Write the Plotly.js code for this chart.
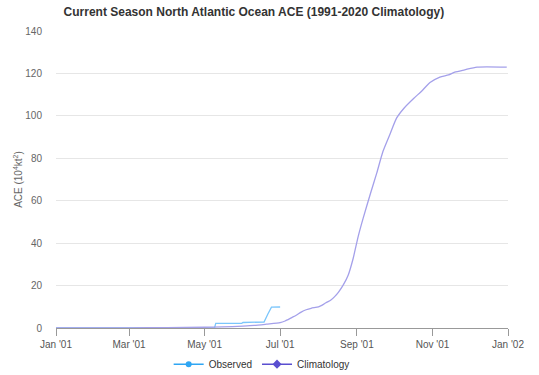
<!DOCTYPE html>
<html>
<head>
<meta charset="utf-8">
<script src="https://cdn.plot.ly/plotly-3.0.1.min.js"></script>
<style>
html,body{margin:0;padding:0;background:#fff;}
#chart{width:539px;height:375px;}
</style>
</head>
<body>
<div id="chart"></div>
<script>
// Observed season ACE (cumulative)
const obsDates = ['2001-01-01','2001-05-09','2001-05-10','2001-05-31','2001-06-01','2001-06-18','2001-06-21','2001-06-24','2001-07-01'];
const obsValues = [0, 0, 2.2, 2.2, 2.6, 2.8, 6.5, 9.8, 9.9];

// Climatology (1991-2020) cumulative ACE
const climDates = ['2001-01-01','2001-02-01','2001-03-01','2001-04-01','2001-05-01','2001-05-15','2001-06-01','2001-06-10','2001-06-20','2001-07-01','2001-07-05','2001-07-10','2001-07-14','2001-07-18','2001-07-22','2001-07-26','2001-08-01','2001-08-04','2001-08-07','2001-08-11','2001-08-14','2001-08-17','2001-08-21','2001-08-25','2001-08-29','2001-09-02','2001-09-06','2001-09-12','2001-09-17','2001-09-22','2001-09-28','2001-10-03','2001-10-09','2001-10-17','2001-10-23','2001-10-30','2001-11-07','2001-11-14','2001-11-19','2001-11-27','2001-12-07','2001-12-31'];
const climValues = [0, 0.05, 0.1, 0.2, 0.35, 0.5, 0.9, 1.2, 1.8, 2.5, 3.3, 4.8, 6.0, 7.5, 8.6, 9.3, 10.0, 10.8, 11.9, 13.2, 14.8, 16.8, 20.3, 25.0, 32.9, 43.1, 51.7, 63.5, 73.0, 83.2, 91.8, 98.9, 103.6, 108.3, 111.5, 115.7, 118.3, 119.3, 120.6, 121.7, 123.0, 123.0];

const xTicks = ['2001-01-01','2001-03-01','2001-05-01','2001-07-01','2001-09-01','2001-11-01','2002-01-01'];
const xTickText = ["Jan '01","Mar '01","May '01","Jul '01","Sep '01","Nov '01","Jan '02"];
const yTicks = [0,20,40,60,80,100,120,140];

const traces = [
  {x: obsDates, y: obsValues, type:'scatter', mode:'lines', name:'Observed', showlegend:false,
   line:{color:'#7cc6fb', width:1.3}, hoverinfo:'skip'},
  {x: climDates, y: climValues, type:'scatter', mode:'lines', name:'Climatology', showlegend:false,
   line:{color:'#a4a0ea', width:1.3, shape:'spline', smoothing:0.6}, hoverinfo:'skip'},
  {x:[null], y:[null], type:'scatter', mode:'lines+markers', name:'Observed',
   line:{color:'#2fa6f3', width:1.5}, marker:{symbol:'circle', size:6, color:'#2fa6f3'}},
  {x:[null], y:[null], type:'scatter', mode:'lines+markers', name:'Climatology',
   line:{color:'#5a4fd0', width:1.5}, marker:{symbol:'diamond', size:7, color:'#5a4fd0'}}
];

const layout = {
  width:539, height:375,
  margin:{l:56, r:31, t:31, b:47},
  paper_bgcolor:'#fff', plot_bgcolor:'#fff',
  font:{family:'"Liberation Sans", Arial, sans-serif', color:'#666', size:10},
  title:{text:'<b>Current Season North Atlantic Ocean ACE (1991-2020 Climatology)</b>',
         font:{size:12, color:'#333', family:'"Liberation Sans", Arial, sans-serif'},
         x:0.471, xanchor:'center', y:0.968, yanchor:'middle'},
  xaxis:{type:'date', range:['2001-01-01','2002-01-01'], tickmode:'array', tickvals:xTicks, ticktext:xTickText,
         showgrid:false, showline:true, linecolor:'#999', linewidth:1, ticks:'outside', ticklen:7, tickcolor:'#999',
         tickfont:{size:10, color:'#555'}, zeroline:false, fixedrange:true},
  yaxis:{range:[0,140], tickmode:'array', tickvals:yTicks, showgrid:true, gridcolor:'#e6e6e6', gridwidth:1,
         zeroline:false, showline:false, ticks:'', tickfont:{size:10, color:'#666'}, ticklabelstandoff:13,
         title:{text:'ACE (10<sup>4</sup>kt<sup>2</sup>)', font:{size:10, color:'#666'}, standoff:0}, fixedrange:true},
  legend:{orientation:'h', xref:'paper', x:0.455, xanchor:'center', yref:'container', y:0.029, yanchor:'middle',
          font:{size:10, color:'#333'}, itemwidth:30},
  showlegend:true
};

Plotly.newPlot('chart', traces, layout, {displayModeBar:false, staticPlot:true});
</script>
</body>
</html>
